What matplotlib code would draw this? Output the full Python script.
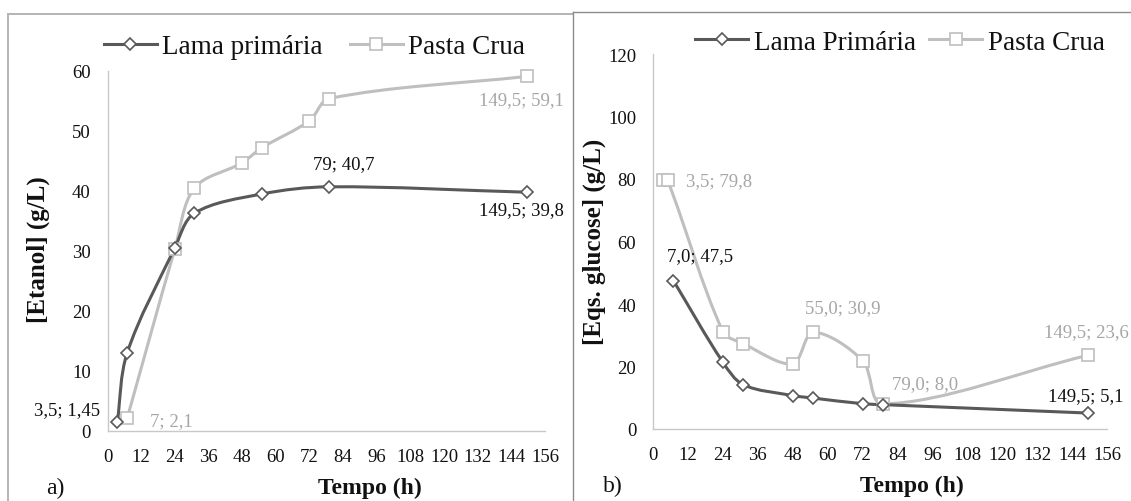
import numpy as np
import matplotlib
matplotlib.use("Agg")
import matplotlib.pyplot as plt
from matplotlib.path import Path
from matplotlib.patches import PathPatch
from matplotlib.lines import Line2D

plt.rcParams['font.family'] = ['Liberation Serif', 'DejaVu Serif']

# a) ethanol concentration over time
eth_lama_t = [3.5, 7, 24, 31, 55, 79, 149.5]
eth_lama_v = [1.45, 13.0, 30.5, 36.3, 39.5, 40.7, 39.8]
eth_pasta_t = [7, 24, 31, 48, 55, 72, 79, 149.5]
eth_pasta_v = [2.1, 30.3, 40.5, 44.7, 47.2, 51.7, 55.4, 59.1]

# b) glucose equivalents over time
glu_lama_t = [7.0, 24, 31, 48, 55, 72, 79, 149.5]
glu_lama_v = [47.5, 21.4, 14.2, 10.7, 9.9, 8.1, 7.8, 5.1]
glu_pasta_t = [3.5, 5.0, 24, 31, 48, 55, 72, 79, 149.5]
glu_pasta_v = [79.8, 79.6, 31.2, 27.3, 20.9, 30.9, 21.9, 8.0, 23.6]

x_ticks = list(range(0, 157, 12))

DARK = '#595959'
LIGHT = '#BFBFBF'
LIGHT_TXT = '#A6A6A6'
TXT = '#111111'

W, H = 1131, 502
fig = plt.figure(figsize=(W / 100, H / 100), dpi=100)


def fx(px):
    return px / W


def fy(py):
    return 1 - py / H


def smooth(ax, x, y, color, lw):
    # Bezier spline through the points, tangents weighted by chord length in screen space
    tr = ax.transData
    p = tr.transform(np.column_stack([x, y]))
    n = len(p)
    verts = [p[0]]
    codes = [Path.MOVETO]
    for i in range(n - 1):
        a = p[max(i - 1, 0)]
        b = p[i]
        c = p[i + 1]
        d = p[min(i + 2, n - 1)]
        d_ab = np.hypot(*(b - a))
        d_bc = np.hypot(*(c - b))
        d_cd = np.hypot(*(d - c))
        c1 = b + (c - a) * d_bc / (d_ab + d_bc) / 3
        c2 = c - (d - b) * d_bc / (d_bc + d_cd) / 3
        verts += [c1, c2, c]
        codes += [Path.CURVE4] * 3
    verts = tr.inverted().transform(np.array(verts))
    ax.add_patch(PathPatch(Path(verts, codes), fill=False, edgecolor=color,
                           lw=lw, capstyle='round', joinstyle='round', zorder=2))


def series(ax, t, v, color, marker, ms):
    smooth(ax, t, v, color, 2.2)
    ax.plot(t, v, linestyle='none', marker=marker, ms=ms, mfc='white',
            mec=color, mew=1.2, zorder=3, clip_on=False)


def style(ax, ymax, ystep):
    ax.set_xlim(0, 156)
    ax.set_ylim(0, ymax)
    ax.set_xticks(x_ticks)
    ax.set_yticks(range(0, ymax + 1, ystep))
    for s in ['top', 'right']:
        ax.spines[s].set_visible(False)
    for s in ['left', 'bottom']:
        ax.spines[s].set_color('#C8C8C8')
        ax.spines[s].set_linewidth(1.0)
    ax.tick_params(length=0, labelsize=13.5, colors=TXT)
    ax.tick_params(axis='x', pad=12)
    ax.tick_params(axis='y', pad=12)
    ax.patch.set_alpha(0)


def label(ax, t, v, text, dx, dy, color, ha='center'):
    ax.annotate(text, (t, v), xytext=(dx, dy), textcoords='offset pixels',
                ha=ha, va='center', fontsize=13.5, color=color, zorder=4)


# panel frames
fig.add_artist(Line2D([fx(8), fx(8)], [fy(15), 0], color='#B4B4B4', lw=1.4))
fig.add_artist(Line2D([fx(8), fx(573)], [fy(15), fy(15)], color='#B4B4B4', lw=1.4))
fig.add_artist(Line2D([fx(573), fx(573)], [fy(13), 0], color='#8C8C8C', lw=1.0))
fig.add_artist(Line2D([fx(573), 1], [fy(13), fy(13)], color='#8C8C8C', lw=1.0))

h_lama = Line2D([], [], color=DARK, lw=2.2, marker='D', ms=6.5, mfc='white', mec=DARK, mew=1.2)
h_pasta = Line2D([], [], color=LIGHT, lw=2.2, marker='s', ms=8.5, mfc='white', mec=LIGHT, mew=1.2)

# ---- a) Etanol ----
ax1 = fig.add_axes([fx(107.5), fy(432), fx(545 - 107.5), (432 - 72) / H])
style(ax1, 60, 10)
series(ax1, eth_pasta_t, eth_pasta_v, LIGHT, 's', 8.5)
series(ax1, eth_lama_t, eth_lama_v, DARK, 'D', 6.5)

label(ax1, eth_lama_t[0], eth_lama_v[0], '3,5; 1,45', -17, 13, TXT, ha='right')
label(ax1, eth_pasta_t[0], eth_pasta_v[0], '7; 2,1', 23, -2, LIGHT_TXT, ha='left')
label(ax1, eth_lama_t[5], eth_lama_v[5], '79; 40,7', 15, 23, TXT)
label(ax1, eth_lama_t[-1], eth_lama_v[-1], '149,5; 39,8', -5, -17, TXT)
label(ax1, eth_pasta_t[-1], eth_pasta_v[-1], '149,5; 59,1', -5, -23, LIGHT_TXT)

fig.text(fx(38), fy(250), '[Etanol] (g/L)', rotation=90, ha='center', va='center',
         fontsize=18, fontweight='bold', color=TXT)
fig.text(fx(370), fy(488), 'Tempo (h)', ha='center', va='center',
         fontsize=17, fontweight='bold', color=TXT)
fig.text(fx(55), fy(488), 'a)', ha='center', va='center', fontsize=17, color=TXT)

fig.legend([h_lama, h_pasta], ['Lama primária', 'Pasta Crua'], loc='center left',
           bbox_to_anchor=(fx(103.5), fy(48)), ncol=2, frameon=False, fontsize=19.5,
           handlelength=1.96, handletextpad=0.2, columnspacing=1.0, numpoints=1,
           borderpad=0, borderaxespad=0, labelcolor=TXT)

# ---- b) Eqs. glucose ----
ax2 = fig.add_axes([fx(653), fy(430), fx(1107 - 653), (430 - 55) / H])
style(ax2, 120, 20)
series(ax2, glu_pasta_t, glu_pasta_v, LIGHT, 's', 8.5)
series(ax2, glu_lama_t, glu_lama_v, DARK, 'D', 6.5)

label(ax2, glu_pasta_t[0], glu_pasta_v[0], '3,5; 79,8', 23, -1, LIGHT_TXT, ha='left')
label(ax2, glu_lama_t[0], glu_lama_v[0], '7,0; 47,5', -6, 25, TXT, ha='left')
label(ax2, glu_pasta_t[5], glu_pasta_v[5], '55,0; 30,9', -8, 25, LIGHT_TXT, ha='left')
label(ax2, glu_pasta_t[7], glu_pasta_v[7], '79,0; 8,0', 9, 20, LIGHT_TXT, ha='left')
label(ax2, glu_pasta_t[-1], glu_pasta_v[-1], '149,5; 23,6', -2, 24, LIGHT_TXT)
label(ax2, glu_lama_t[-1], glu_lama_v[-1], '149,5; 5,1', -2, 17, TXT)

fig.text(fx(594), fy(242), '[Eqs. glucose] (g/L)', rotation=90, ha='center', va='center',
         fontsize=18, fontweight='bold', color=TXT)
fig.text(fx(912), fy(486), 'Tempo (h)', ha='center', va='center',
         fontsize=17, fontweight='bold', color=TXT)
fig.text(fx(613), fy(486), 'b)', ha='center', va='center', fontsize=17, color=TXT)

fig.legend([h_lama, h_pasta], ['Lama Primária', 'Pasta Crua'], loc='center left',
           bbox_to_anchor=(fx(695), fy(43)), ncol=2, frameon=False, fontsize=19.5,
           handlelength=1.96, handletextpad=0.2, columnspacing=0.5, numpoints=1,
           borderpad=0, borderaxespad=0, labelcolor=TXT)

fig.savefig('out.png', dpi=100)
